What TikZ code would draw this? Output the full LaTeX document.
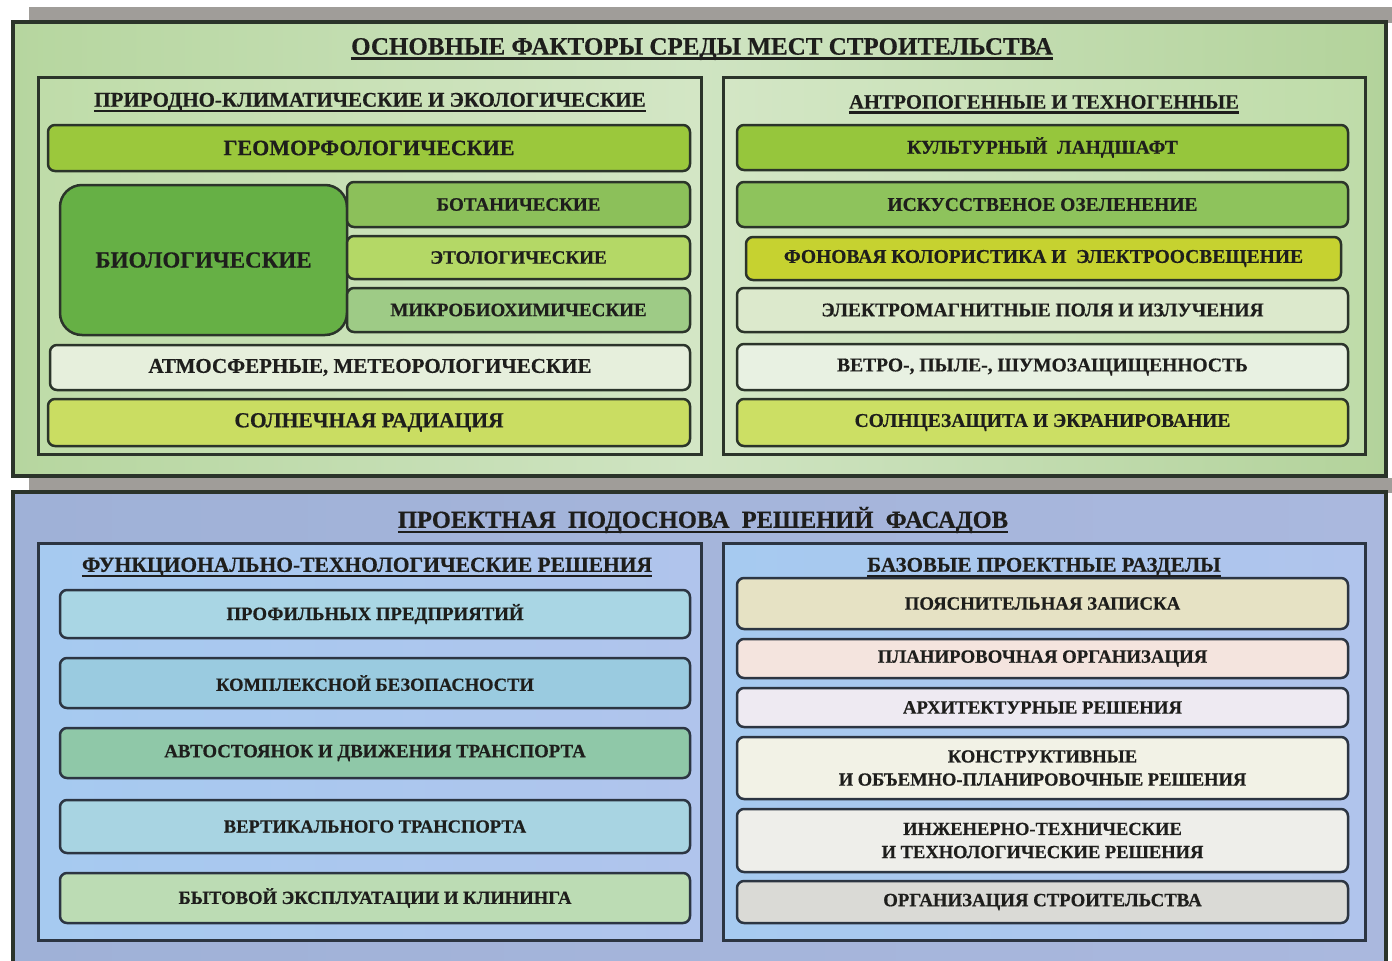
\documentclass[tikz,border=0pt]{standalone}
\usepackage{fontspec}
\setmainfont{Liberation Serif}[BoldFeatures={FakeBold=0.5}]
\definecolor{txt}{HTML}{1E1E1C}
\definecolor{gline}{HTML}{2B342A}
\definecolor{bline}{HTML}{2C3542}
\definecolor{band}{HTML}{A09D99}
% top panel colours
\definecolor{gouterL}{HTML}{B6D69F}
\definecolor{gouterM}{HTML}{CFE4C2}
\definecolor{gouterR}{HTML}{B3D39B}
\definecolor{gsubL}{HTML}{BFDCA9}
\definecolor{gsubR}{HTML}{D3E6C5}
\definecolor{cGeo}{HTML}{9BC83C}
\definecolor{cBio}{HTML}{66B045}
\definecolor{cBot}{HTML}{8CC05A}
\definecolor{cEto}{HTML}{B4D866}
\definecolor{cMic}{HTML}{9ECB86}
\definecolor{cAtm}{HTML}{E6EFDC}
\definecolor{cSol}{HTML}{CADD62}
\definecolor{cKul}{HTML}{96C63C}
\definecolor{cIsk}{HTML}{8EC35C}
\definecolor{cFon}{HTML}{C6D230}
\definecolor{cEle}{HTML}{DCE9CC}
\definecolor{cVet}{HTML}{E8F1E2}
\definecolor{cScr}{HTML}{CCDF64}
% bottom panel colours
\definecolor{bouterL}{HTML}{9FB1D7}
\definecolor{bouterR}{HTML}{AAB8DE}
\definecolor{bsubL}{HTML}{A6CAF0}
\definecolor{bsubR}{HTML}{B0C4EC}
\definecolor{cPro}{HTML}{A9D6E4}
\definecolor{cKom}{HTML}{9ACBE0}
\definecolor{cAvt}{HTML}{8FC8A8}
\definecolor{cVer}{HTML}{A8D4E2}
\definecolor{cByt}{HTML}{BCDCB4}
\definecolor{cPoy}{HTML}{E6E2C4}
\definecolor{cPla}{HTML}{F4E4DE}
\definecolor{cArh}{HTML}{EEEAF2}
\definecolor{cKon}{HTML}{F2F2E6}
\definecolor{cInz}{HTML}{EEEEEA}
\definecolor{cOrg}{HTML}{DADAD6}
\newcommand\fsz[1]{\fontsize{#1pt}{\dimexpr #1pt*5/4\relax}\selectfont}
% name, x1, y1, x2, y2, fill, line colour, font size, text
\newcommand\bx[9]{\node[itembox, fill=#6, draw=#7, minimum width={#4-#2}, minimum height={#5-#3}, font=\bfseries\fsz{#8}] (#1) at ({(#2+#4)/2},{(#3+#5)/2}) {#9};}
\newcommand\ttl[5]{\node[titletext, font=\bfseries\fsz{#4}] (#1) at (#2,#3) {#5};
  \draw[line width=2.4pt, txt] ([yshift=-4pt]#1.base west) -- ([yshift=-4pt]#1.base east);}
\begin{document}
\begin{tikzpicture}[x=1pt,y=-1pt,
  itembox/.style={line width=2.5pt, rounded corners=7pt, inner sep=2pt, align=center, text=txt},
  panelbox/.style={line width=3.6pt, inner sep=0pt},
  subbox/.style={line width=3pt, inner sep=0pt},
  titletext/.style={inner sep=0pt, text=txt}]
\useasboundingbox (0,0) rectangle (1392,961);
\clip (0,0) rectangle (1392,961);
\fill[white] (0,0) rectangle (1392,961);
% grey bands
\fill[band] (29,7) rectangle (1392,23);
\fill[band] (29,478) rectangle (1392,493);
% ---------- top panel ----------
\node[panelbox, draw=gline, left color=gouterL, right color=gouterR, middle color=gouterM,
  minimum width=1373, minimum height=454] (top) at (699.5,249) {};
\node[subbox, draw=gline, left color=gsubL, right color=gsubR,
  minimum width=663, minimum height=377] (natural) at (369.5,265.5) {};
\node[subbox, draw=gline, left color=gsubR, right color=gsubL,
  minimum width=642, minimum height=377] (anthro) at (1044,265.5) {};
\ttl{t1}{702}{49}{25}{ОСНОВНЫЕ ФАКТОРЫ СРЕДЫ МЕСТ СТРОИТЕЛЬСТВА}
\ttl{s1}{370}{102}{21}{ПРИРОДНО-КЛИМАТИЧЕСКИЕ И ЭКОЛОГИЧЕСКИЕ}
\ttl{s2}{1044}{102}{20.5}{АНТРОПОГЕННЫЕ И ТЕХНОГЕННЫЕ}
% left column
\bx{geo}{48}{125}{690}{171}{cGeo}{gline}{22}{ГЕОМОРФОЛОГИЧЕСКИЕ}
\node[itembox, draw=gline, fill=cBio, rounded corners=22pt, minimum width=287, minimum height=150,
  font=\bfseries\fsz{23}] (bio) at (203.5,260) {БИОЛОГИЧЕСКИЕ};
\bx{bot}{347}{182}{690}{227}{cBot}{gline}{19}{БОТАНИЧЕСКИЕ}
\bx{eto}{347}{236}{690}{279}{cEto}{gline}{19}{ЭТОЛОГИЧЕСКИЕ}
\bx{mic}{347}{288}{690}{332}{cMic}{gline}{19}{МИКРОБИОХИМИЧЕСКИЕ}
\bx{atm}{50}{345}{690}{390}{cAtm}{gline}{21}{АТМОСФЕРНЫЕ, МЕТЕОРОЛОГИЧЕСКИЕ}
\bx{sol}{48}{399}{690}{446}{cSol}{gline}{21.5}{СОЛНЕЧНАЯ РАДИАЦИЯ}
% right column
\bx{kul}{737}{125}{1348}{170}{cKul}{gline}{19.5}{КУЛЬТУРНЫЙ\ \ ЛАНДШАФТ}
\bx{isk}{737}{182}{1348}{227}{cIsk}{gline}{19.5}{ИСКУССТВЕНОЕ ОЗЕЛЕНЕНИЕ}
\bx{fon}{746}{237}{1341}{280}{cFon}{gline}{19.5}{ФОНОВАЯ КОЛОРИСТИКА И\ \ ЭЛЕКТРООСВЕЩЕНИЕ}
\bx{ele}{737}{288}{1348}{332}{cEle}{gline}{19.5}{ЭЛЕКТРОМАГНИТНЫЕ ПОЛЯ И ИЗЛУЧЕНИЯ}
\bx{vet}{737}{344}{1348}{390}{cVet}{gline}{19.5}{ВЕТРО-, ПЫЛЕ-, ШУМОЗАЩИЩЕННОСТЬ}
\bx{scr}{737}{399}{1348}{446}{cScr}{gline}{19.5}{СОЛНЦЕЗАЩИТА И ЭКРАНИРОВАНИЕ}
% ---------- bottom panel ----------
\node[panelbox, draw=gline, left color=bouterL, right color=bouterR,
  minimum width=1373, minimum height=500] (bottom) at (699.5,742) {};
\node[subbox, draw=bline, left color=bsubL, right color=bsubR,
  minimum width=663, minimum height=397] (func) at (369.5,741.5) {};
\node[subbox, draw=bline, left color=bsubL, right color=bsubR,
  minimum width=642, minimum height=397] (base) at (1044,741.5) {};
\ttl{t2}{703}{520}{24.5}{ПРОЕКТНАЯ\ \ ПОДОСНОВА\ \ РЕШЕНИЙ\ \ ФАСАДОВ}
\ttl{s3}{367}{567}{21.5}{ФУНКЦИОНАЛЬНО-ТЕХНОЛОГИЧЕСКИЕ РЕШЕНИЯ}
\ttl{s4}{1044}{567}{21}{БАЗОВЫЕ ПРОЕКТНЫЕ РАЗДЕЛЫ}
% left column
\bx{pro}{60}{590}{690}{638}{cPro}{bline}{18.8}{ПРОФИЛЬНЫХ ПРЕДПРИЯТИЙ}
\bx{kom}{60}{658}{690}{708}{cKom}{bline}{18.5}{КОМПЛЕКСНОЙ БЕЗОПАСНОСТИ}
\bx{avt}{60}{728}{690}{778}{cAvt}{bline}{18.8}{АВТОСТОЯНОК И ДВИЖЕНИЯ ТРАНСПОРТА}
\bx{ver}{60}{800}{690}{853}{cVer}{bline}{18.5}{ВЕРТИКАЛЬНОГО ТРАНСПОРТА}
\bx{byt}{60}{873}{690}{923}{cByt}{bline}{18.6}{БЫТОВОЙ ЭКСПЛУАТАЦИИ И КЛИНИНГА}
% right column
\bx{poy}{737}{578}{1348}{629}{cPoy}{bline}{18.8}{ПОЯСНИТЕЛЬНАЯ ЗАПИСКА}
\bx{pla}{737}{639}{1348}{678}{cPla}{bline}{18.8}{ПЛАНИРОВОЧНАЯ ОРГАНИЗАЦИЯ}
\bx{arh}{737}{688}{1348}{727}{cArh}{bline}{18.8}{АРХИТЕКТУРНЫЕ РЕШЕНИЯ}
\bx{kon}{737}{737}{1348}{799}{cKon}{bline}{18.5}{КОНСТРУКТИВНЫЕ\\И ОБЪЕМНО-ПЛАНИРОВОЧНЫЕ РЕШЕНИЯ}
\bx{inz}{737}{809}{1348}{872}{cInz}{bline}{18.5}{ИНЖЕНЕРНО-ТЕХНИЧЕСКИЕ\\И ТЕХНОЛОГИЧЕСКИЕ РЕШЕНИЯ}
\bx{org}{737}{881}{1348}{923}{cOrg}{bline}{18.8}{ОРГАНИЗАЦИЯ СТРОИТЕЛЬСТВА}
\end{tikzpicture}
\end{document}
